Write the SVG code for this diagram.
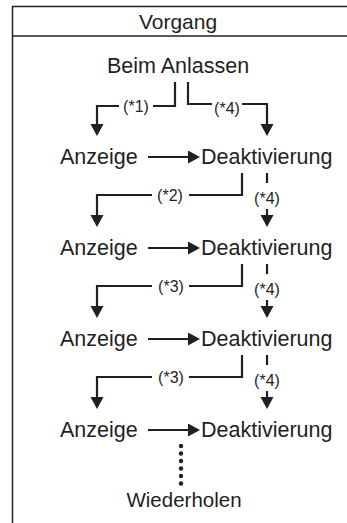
<svg xmlns="http://www.w3.org/2000/svg" width="347" height="523" viewBox="0 0 347 523">
<style>
  .t { font-family: "Liberation Sans", Arial, sans-serif; font-size: 21.5px; fill: #231f20; }
  .h { font-family: "Liberation Sans", Arial, sans-serif; font-size: 21px; fill: #231f20; text-anchor: middle; }
  .l { font-family: "Liberation Sans", Arial, sans-serif; font-size: 16px; fill: #231f20; text-anchor: middle; }
  .c { fill: none; stroke: #231f20; stroke-width: 2.2; }
  .a { fill: none; stroke: #231f20; stroke-width: 2.2; marker-end: url(#ah); }
  .f { fill: none; stroke: #231f20; stroke-width: 1.5; }
</style>
<defs>
  <marker id="ah" markerUnits="userSpaceOnUse" markerWidth="14" markerHeight="14" refX="10" refY="6.5" orient="auto">
    <path d="M0,0 L12,6.5 L0,13 z" fill="#231f20"/>
  </marker>
</defs>
<rect width="347" height="523" fill="#ffffff"/>
<g id="frame">
  <path class="f" d="M12.5,523 V6.5 H347"/>
  <path class="f" d="M12.5,36 H347"/>
</g>
<g id="header"><text class="h" x="178" y="28.5">Vorgang</text></g>
<g id="start"><text class="t" x="178" y="73" text-anchor="middle">Beim Anlassen</text></g>
<g id="anz1"><text class="t" x="60" y="164">Anzeige</text></g>
<g id="dea1"><text class="t" x="201" y="164">Deaktivierung</text></g>
<g id="anz2"><text class="t" x="60" y="255">Anzeige</text></g>
<g id="dea2"><text class="t" x="201" y="255">Deaktivierung</text></g>
<g id="anz3"><text class="t" x="60" y="346">Anzeige</text></g>
<g id="dea3"><text class="t" x="201" y="346">Deaktivierung</text></g>
<g id="anz4"><text class="t" x="60" y="437">Anzeige</text></g>
<g id="dea4"><text class="t" x="201" y="437">Deaktivierung</text></g>
<g id="repeat"><text class="t" x="184" y="507" text-anchor="middle" style="font-size:20.5px">Wiederholen</text></g>
<g id="connectors">
  <!-- from start -->
  <path class="c" d="M175,82 V106 H153"/>
  <path class="a" d="M119,106 H97 V134"/>
  <text class="l" x="136" y="111.5">(*1)</text>
  <path class="c" d="M188,82 V104 H212"/>
  <path class="a" d="M242,104 H267 V134"/>
  <text class="l" x="227" y="113.5">(*4)</text>
  <!-- horizontal arrows -->
  <path class="a" d="M148,157 H198"/>
  <path class="a" d="M148,248 H198"/>
  <path class="a" d="M148,339 H198"/>
  <path class="a" d="M148,430 H198"/>
  <!-- row 1 to 2 -->
  <path class="c" d="M242,173 V195 H189"/>
  <path class="a" d="M152,195 H97 V225"/>
  <text class="l" x="170" y="201">(*2)</text>
  <path class="c" d="M267,173 V183"/>
  <text class="l" x="267" y="203.5">(*4)</text>
  <path class="a" d="M267,209 V225"/>
  <!-- row 2 to 3 -->
  <path class="c" d="M242,264 V286 H189"/>
  <path class="a" d="M152,286 H97 V316"/>
  <text class="l" x="171" y="292">(*3)</text>
  <path class="c" d="M267,264 V274"/>
  <text class="l" x="267" y="294.5">(*4)</text>
  <path class="a" d="M267,300 V316"/>
  <!-- row 3 to 4 -->
  <path class="c" d="M242,355 V377 H189"/>
  <path class="a" d="M152,377 H97 V407"/>
  <text class="l" x="171" y="383">(*3)</text>
  <path class="c" d="M267,355 V365"/>
  <text class="l" x="267" y="385.5">(*4)</text>
  <path class="a" d="M267,391 V407"/>
  <!-- dotted -->
  <g fill="#231f20">
    <circle cx="181" cy="446" r="2.2"/>
    <circle cx="181" cy="453.5" r="2.2"/>
    <circle cx="181" cy="461" r="2.2"/>
    <circle cx="181" cy="468.5" r="2.2"/>
    <circle cx="181" cy="476" r="2.2"/>
    <circle cx="181" cy="483.5" r="2.2"/>
  </g>
</g>
</svg>
